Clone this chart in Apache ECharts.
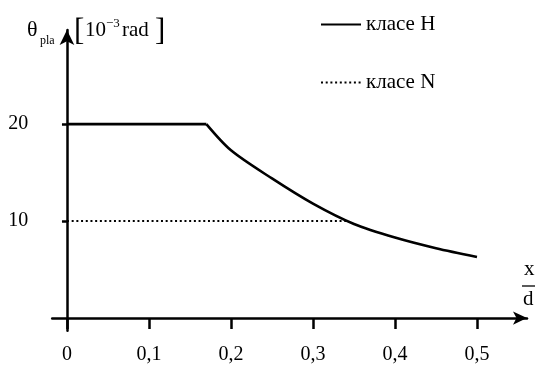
<!DOCTYPE html>
<html><head><meta charset="utf-8">
<script src="https://cdn.jsdelivr.net/npm/echarts@6/dist/echarts.min.js"></script>
<style>html,body{margin:0;padding:0;background:#fff}#c{width:536px;height:365px}</style>
</head><body><div id="c"></div>
<script>
const xTicks = [0, 0.1, 0.2, 0.3, 0.4, 0.5];
const xTickLabels = ['0', '0,1', '0,2', '0,3', '0,4', '0,5'];
const yTicks = [10, 20];
const yTickLabels = ['10', '20'];
// класе H: plateau then decreasing curve
const xHflat = [0, 0.17];
const yHflat = [20, 20];
const xHcurve = [0.17, 0.2, 0.25, 0.3, 0.35, 0.4, 0.45, 0.5];
const yHcurve = [20, 17.3, 14.4, 11.8, 9.7, 8.3, 7.2, 6.3];
const xN = [0, 0.343];
const yN = [10, 10];
const nameH = 'класе H';
const nameN = 'класе N';

const FONT = "'Liberation Serif', 'Times New Roman', serif";
const chart = echarts.init(document.getElementById('c'));
const option = {
  animation: false,
  backgroundColor: '#fff',
  grid: { left: 52.2, right: 9, top: 30, bottom: 34.3, containLabel: false, outerBoundsMode: 'none' },
  legend: {
    orient: 'vertical', left: 320, top: 14, itemWidth: 40, itemHeight: 16, itemGap: 37,
    padding: 0,
    itemStyle: { opacity: 0 },
    textStyle: { fontFamily: FONT, fontSize: 21, color: '#000' },
    data: [nameH, nameN]
  },
  xAxis: {
    type: 'value', min: -0.018, max: 0.561,
    axisLine: { onZero: true, lineStyle: { color: '#000', width: 2.5 }, symbol: ['none', 'arrow'], symbolSize: [10, 14] },
    axisTick: { show: true, customValues: xTicks, length: 11, inside: false, lineStyle: { color: '#000', width: 2.5 } },
    axisLabel: { customValues: xTicks, margin: 14, fontFamily: FONT, fontSize: 20, color: '#000',
      formatter: v => { const i = xTicks.findIndex(t => Math.abs(t - v) < 1e-9); return i >= 0 ? xTickLabels[i] : ''; } },
    splitLine: { show: false }
  },
  yAxis: {
    type: 'value', min: -1.3, max: 29.7,
    axisLine: { onZero: true, lineStyle: { color: '#000', width: 2.5 }, symbol: ['none', 'arrow'], symbolSize: [11, 15] },
    axisTick: { show: true, customValues: yTicks, length: 5, inside: false, lineStyle: { color: '#000', width: 2.5 } },
    axisLabel: { customValues: yTicks, margin: 24, fontFamily: FONT, fontSize: 20, color: '#000',
      formatter: v => { const i = yTicks.findIndex(t => Math.abs(t - v) < 1e-9); return i >= 0 ? yTickLabels[i] : ''; } },
    splitLine: { show: false }
  },
  series: [
    { name: nameH, type: 'line', symbol: 'none', data: xHflat.map((x, i) => [x, yHflat[i]]),
      lineStyle: { color: '#000', width: 2.6 }, itemStyle: { color: '#000' } },
    { name: nameH, type: 'line', symbol: 'none', smooth: 0.3,
      data: xHcurve.map((x, i) => [x, yHcurve[i]]),
      lineStyle: { color: '#000', width: 2.6 }, itemStyle: { color: '#000' } },
    { name: nameN, type: 'line', symbol: 'none', data: xN.map((x, i) => [x, yN[i]]),
      lineStyle: { color: '#000', width: 2, type: [2, 2.7] }, itemStyle: { color: '#000' } }
  ],
  graphic: [
    { type: 'text', left: 27, top: 19, style: { text: 'θ', font: '22px ' + FONT, fill: '#000' } },
    { type: 'text', left: 40, top: 35, style: { text: 'pla', font: '12px ' + FONT, fill: '#000' } },
    { type: 'text', left: 74, top: 16, style: { text: '[', font: '31px ' + FONT, fill: '#000' } },
    { type: 'text', left: 85, top: 20, style: { text: '10', font: '21px ' + FONT, fill: '#000' } },
    { type: 'text', left: 106, top: 17, style: { text: '−3', font: '13px ' + FONT, fill: '#000' } },
    { type: 'text', left: 122, top: 20, style: { text: 'rad', font: '21px ' + FONT, fill: '#000' } },
    { type: 'text', left: 155, top: 16, style: { text: ']', font: '31px ' + FONT, fill: '#000' } },
    { type: 'text', left: 524, top: 259, style: { text: 'x', font: '21px ' + FONT, fill: '#000' } },
    { type: 'line', shape: { x1: 522, y1: 286, x2: 535, y2: 286 }, style: { stroke: '#000', lineWidth: 1.3 } },
    { type: 'text', left: 523, top: 289, style: { text: 'd', font: '21px ' + FONT, fill: '#000' } }
  ]
};
chart.setOption(option);
</script></body></html>
